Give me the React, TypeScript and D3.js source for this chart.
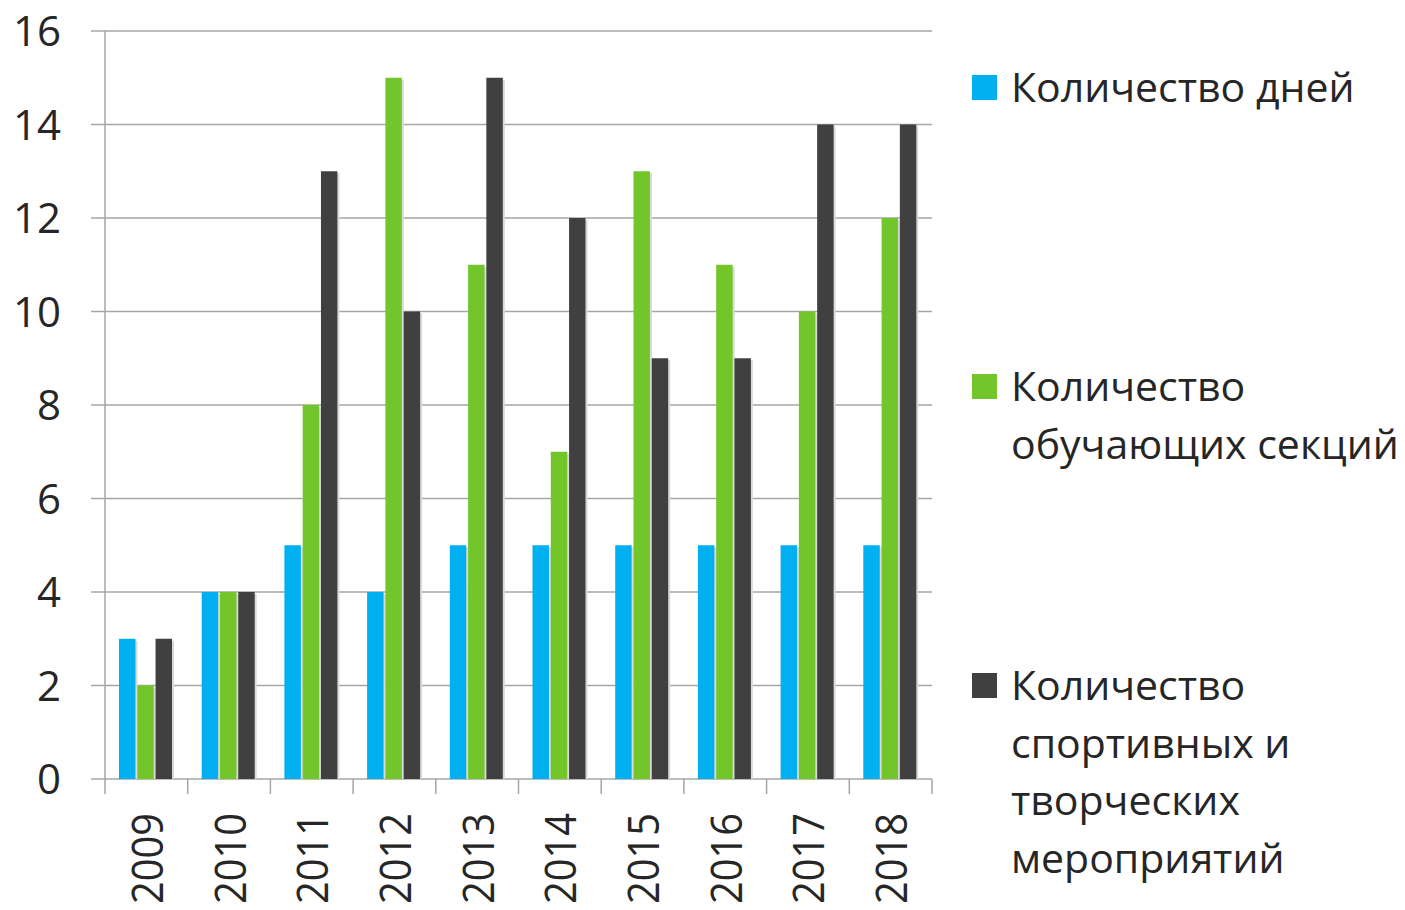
import React, { useEffect, useRef } from 'react';
import * as d3 from 'd3';

const years = ['2009', '2010', '2011', '2012', '2013', '2014', '2015', '2016', '2017', '2018'];
const days = [3, 4, 5, 4, 5, 5, 5, 5, 5, 5];
const sections = [2, 4, 8, 15, 11, 7, 13, 11, 10, 12];
const events = [3, 4, 13, 10, 15, 12, 9, 9, 14, 14];
const yTicks = [0, 2, 4, 6, 8, 10, 12, 14, 16];

const seriesNames = ['days', 'sections', 'events'];
const seriesColors = ['#00b0f0', '#72c62a', '#404040'];
const legendLines = [
  ['Количество дней'],
  ['Количество', 'обучающих секций'],
  ['Количество', 'спортивных и', 'творческих', 'мероприятий'],
];

const W = 1405;
const H = 910;
const FONT = '"Open Sans", sans-serif';

const App: React.FC = () => {
  const svgRef = useRef<SVGSVGElement>(null);

  useEffect(() => {
    if (!svgRef.current) return;
    const svg = d3.select(svgRef.current);
    svg.selectAll('*').remove();

    const left = 105;
    const right = 932;
    const top = 31;
    const bottom = 779;

    const x0 = d3.scaleBand<string>().domain(years).range([left, right]);
    const x1 = d3.scaleBand<string>().domain(seriesNames).range([14, 67]).paddingInner(0.1);
    const y = d3.scaleLinear().domain([0, 16]).range([bottom, top]);

    // grid lines
    svg.append('g')
      .selectAll('line')
      .data(yTicks)
      .enter()
      .append('line')
      .attr('x1', left - 14)
      .attr('x2', right)
      .attr('y1', d => y(d))
      .attr('y2', d => y(d))
      .attr('stroke', '#a6a6a6')
      .attr('stroke-width', 1.5);

    // y axis line
    svg.append('line')
      .attr('x1', left).attr('x2', left)
      .attr('y1', top).attr('y2', bottom)
      .attr('stroke', '#a6a6a6')
      .attr('stroke-width', 1.5);

    // y labels
    svg.append('g')
      .selectAll('text')
      .data(yTicks)
      .enter()
      .append('text')
      .attr('x', 61)
      .attr('y', d => y(d))
      .attr('dy', '0.36em')
      .attr('text-anchor', 'end')
      .style('font-family', FONT)
      .style('font-size', '42px')
      .style('fill', '#262626')
      .text(d => d);

    // x ticks
    const tickXs = [...years.map(d => x0(d) as number), right];
    svg.append('g')
      .selectAll('line')
      .data(tickXs)
      .enter()
      .append('line')
      .attr('x1', d => d).attr('x2', d => d)
      .attr('y1', bottom).attr('y2', bottom + 15)
      .attr('stroke', '#a6a6a6')
      .attr('stroke-width', 1.5);

    // bars
    const data = years.map((yr, i) => ({ yr, vals: [days[i], sections[i], events[i]] }));
    const groups = svg.append('g')
      .selectAll('g')
      .data(data)
      .enter()
      .append('g')
      .attr('transform', d => `translate(${x0(d.yr)},0)`);

    const bars = groups.selectAll('g')
      .data(d => d.vals.map((v, k) => ({ v, k })))
      .enter()
      .append('g');

    bars.append('rect')
      .attr('x', d => (x1(seriesNames[d.k]) as number) + 2)
      .attr('y', d => y(d.v) + 2)
      .attr('width', x1.bandwidth())
      .attr('height', d => bottom - y(d.v) - 2)
      .attr('fill', '#d9d9d9');

    bars.append('rect')
      .attr('x', d => x1(seriesNames[d.k]) as number)
      .attr('y', d => y(d.v))
      .attr('width', x1.bandwidth())
      .attr('height', d => bottom - y(d.v))
      .attr('fill', d => seriesColors[d.k]);

    // x labels (rotated)
    svg.append('g')
      .selectAll('text')
      .data(years)
      .enter()
      .append('text')
      .attr('transform', d => `translate(${(x0(d) as number) + x0.bandwidth() / 2 + 16.5},813) rotate(-90)`)
      .attr('text-anchor', 'end')
      .attr('textLength', 91)
      .attr('lengthAdjust', 'spacingAndGlyphs')
      .style('font-family', FONT)
      .style('font-size', '43px')
      .style('fill', '#262626')
      .text(d => d);

    // legend
    const legendTops = [88, 387, 686];
    const lineH = 57.5;
    const legend = svg.append('g');
    legendLines.forEach((lines, i) => {
      legend.append('rect')
        .attr('x', 972)
        .attr('y', legendTops[i] - 13)
        .attr('width', 25)
        .attr('height', 25)
        .attr('fill', seriesColors[i]);
      lines.forEach((ln, j) => {
        legend.append('text')
          .attr('x', 1011)
          .attr('y', legendTops[i] + j * lineH)
          .attr('dy', '0.35em')
          .style('font-family', FONT)
          .style('font-size', '41px')
          .style('fill', '#262626')
          .text(ln);
      });
    });
  }, []);

  return <svg ref={svgRef} width={W} height={H} style={{ display: 'block', margin: -8 }} />;
};

export default App;
